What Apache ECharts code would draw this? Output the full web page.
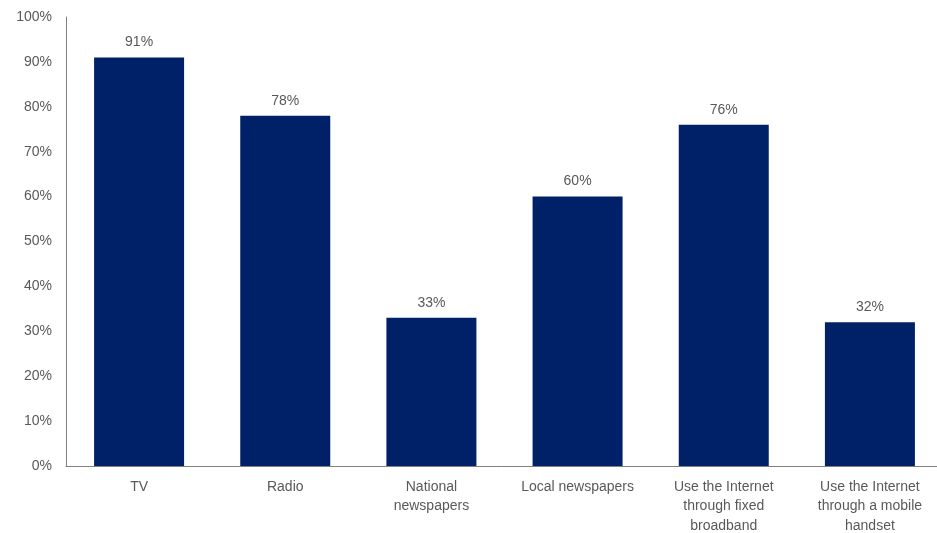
<!DOCTYPE html>
<html><head><meta charset="utf-8">
<script src="https://cdn.jsdelivr.net/npm/echarts@6/dist/echarts.min.js"></script>
<style>html,body{margin:0;padding:0;background:#fff}#c{width:937px;height:533px}</style>
</head><body><div id="c"></div>
<script>
const categories = ["TV", "Radio", "National\nnewspapers", "Local newspapers", "Use the Internet\nthrough fixed\nbroadband", "Use the Internet\nthrough a mobile\nhandset"];
const values = [91, 78, 33, 60, 76, 32];
const yTicks = [0, 10, 20, 30, 40, 50, 60, 70, 80, 90, 100];

const chart = echarts.init(document.getElementById('c'), null, {renderer: 'canvas'});
chart.setOption({
  animation: false,
  backgroundColor: '#ffffff',
  grid: {left: 66, top: 17, width: 877, height: 449, containLabel: false, outerBoundsMode: 'none'},
  xAxis: {
    type: 'category',
    data: categories,
    axisLine: {lineStyle: {color: '#808080', width: 1}},
    axisTick: {show: false},
    axisLabel: {color: '#595959', fontFamily: 'Liberation Sans, Arial, sans-serif', fontSize: 14, lineHeight: 19.5, margin: 11, interval: 0}
  },
  yAxis: {
    type: 'value',
    min: yTicks[0], max: yTicks[yTicks.length - 1], interval: 10,
    axisLine: {show: true, lineStyle: {color: '#808080', width: 1}},
    axisTick: {show: false},
    splitLine: {show: false},
    axisLabel: {color: '#595959', fontFamily: 'Liberation Sans, Arial, sans-serif', fontSize: 14, margin: 14, formatter: v => v + '%'}
  },
  series: [{
    type: 'bar',
    data: values,
    barWidth: 90,
    itemStyle: {color: '#002168'},
    label: {show: true, position: 'top', distance: 8, color: '#595959', fontFamily: 'Liberation Sans, Arial, sans-serif', fontSize: 14, formatter: p => p.value + '%'}
  }]
});
</script></body></html>
